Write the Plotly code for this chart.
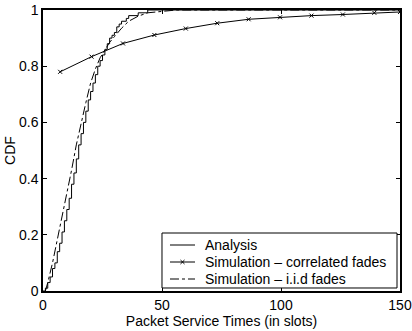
import plotly.graph_objects as go

# Analysis (step CDF)
analysis_x = [0, 1, 2, 3, 4, 5, 6, 7, 8, 9, 10, 11, 12, 13, 14, 15, 16, 17, 18, 19, 20,
              21, 22, 23, 24, 25, 26, 27, 28, 29, 30, 31, 32, 33, 35, 36, 40, 44, 150]
analysis_y = [0, 0.01, 0.03, 0.05, 0.08, 0.10, 0.14, 0.17, 0.21, 0.25, 0.29, 0.33, 0.38, 0.42,
              0.47, 0.52, 0.56, 0.60, 0.64, 0.68, 0.71, 0.74, 0.77, 0.80, 0.82, 0.84, 0.86,
              0.88, 0.90, 0.91, 0.92, 0.94, 0.95, 0.96, 0.97, 0.98, 0.99, 1.0, 1.0]

# Simulation - correlated fades
corr_x = [7.2, 20.4, 33.6, 46.8, 60.0, 73.2, 86.4, 99.6, 112.8, 126.0, 139.2, 150]
corr_y = [0.780, 0.834, 0.881, 0.911, 0.934, 0.953, 0.967, 0.974, 0.980, 0.984, 0.990, 0.993]

# Simulation - i.i.d fades
iid_x = [1, 2, 4, 6, 8, 10, 12, 14, 16, 18, 20, 22, 24, 26, 28, 30, 33, 36, 40, 44, 50, 56, 150]
iid_y = [0, 0.03, 0.10, 0.18, 0.26, 0.34, 0.43, 0.52, 0.60, 0.67, 0.74, 0.79, 0.83, 0.86,
         0.885, 0.905, 0.935, 0.96, 0.978, 0.99, 0.996, 1.0, 1.0]

x_ticks = [0, 50, 100, 150]
y_ticks = [0, 0.2, 0.4, 0.6, 0.8, 1]
y_labels = ["0", "0.2", "0.4", "0.6", "0.8", "1"]

legend_labels = ["Analysis", "Simulation – correlated fades", "Simulation – i.i.d fades"]

FONT = "Liberation Sans, Arial, sans-serif"
FS = 14

fig = go.Figure()
fig.add_trace(go.Scatter(x=analysis_x, y=analysis_y, mode="lines", line_shape="hv",
                         line=dict(color="black", width=1), name=legend_labels[0]))
fig.add_trace(go.Scatter(x=corr_x, y=corr_y, mode="lines+markers",
                         line=dict(color="black", width=1),
                         marker=dict(symbol="x-thin", size=4, line=dict(color="black", width=1)),
                         name=legend_labels[1]))
fig.add_trace(go.Scatter(x=iid_x, y=iid_y, mode="lines",
                         line=dict(color="black", width=1, dash="dashdot"),
                         name=legend_labels[2]))

axis_common = dict(showgrid=False, zeroline=False, showline=True, linecolor="black",
                   linewidth=1.5, mirror="ticks", ticks="inside", ticklen=4,
                   tickcolor="black", tickfont=dict(size=FS, color="black"),
                   automargin=False, ticklabeloverflow="allow")

# Compact legend box (paper coordinates) to mimic the original legend
box_x0, box_x1, box_y0, box_y1 = 0.3333, 0.9916, 0.0107, 0.2064
row_y = [0.1637, 0.1032, 0.0427]
sample_x0, sample_x1, text_x = 0.3557, 0.4258, 0.4473
dashes = ["solid", "solid", "dashdot"]

shapes = [dict(type="rect", xref="paper", yref="paper", x0=box_x0, x1=box_x1,
               y0=box_y0, y1=box_y1, line=dict(color="black", width=1),
               fillcolor="white", layer="above")]
annotations = []
for lab, yy, dsh in zip(legend_labels, row_y, dashes):
    shapes.append(dict(type="line", xref="paper", yref="paper", x0=sample_x0, x1=sample_x1,
                       y0=yy, y1=yy, line=dict(color="black", width=1, dash=dsh), layer="above"))
    annotations.append(dict(xref="paper", yref="paper", x=text_x, y=yy, text=lab,
                            showarrow=False, xanchor="left", yanchor="middle",
                            font=dict(size=FS, color="black", family=FONT)))
# marker in correlated-fades sample
mx = (sample_x0 + sample_x1) / 2
dx, dy = 0.0056, 0.0071
for sgn in (1, -1):
    shapes.append(dict(type="line", xref="paper", yref="paper", x0=mx - dx, x1=mx + dx,
                       y0=row_y[1] - sgn * dy, y1=row_y[1] + sgn * dy,
                       line=dict(color="black", width=1), layer="above"))

fig.update_layout(
    width=412, height=331,
    margin=dict(l=43, r=12, t=10, b=40),
    paper_bgcolor="white", plot_bgcolor="white",
    font=dict(family=FONT, color="black", size=FS),
    xaxis=dict(range=[0, 150], tickvals=x_ticks,
               title=dict(text="Packet Service Times (in slots)", font=dict(size=FS), standoff=0),
               **axis_common),
    yaxis=dict(range=[0, 1], tickvals=y_ticks, ticktext=y_labels,
               title=dict(text="CDF", font=dict(size=FS), standoff=0),
               **axis_common),
    showlegend=False,
    shapes=shapes,
    annotations=annotations,
)

fig.write_html("out.html")
